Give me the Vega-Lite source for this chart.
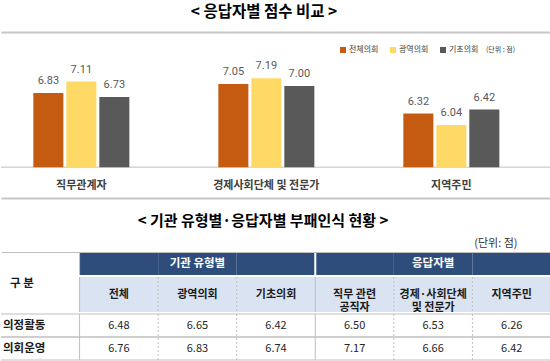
{
  "$schema": "https://vega.github.io/schema/vega-lite/v6.json",
  "padding": {"left": 0, "right": 0, "top": 4, "bottom": 0},
  "background": "white",
  "config": {
    "view": {"stroke": null},
    "font": "Noto Sans CJK KR",
    "axis": {"labelFont": "Noto Sans CJK KR", "titleFont": "Noto Sans CJK KR"},
    "legend": {"labelFont": "Noto Sans CJK KR", "titleFont": "Noto Sans CJK KR"},
    "title": {"font": "Noto Sans CJK KR"}
  },
  "datasets": {
    "bars": [
      {"cat": "직무관계자", "series": "전체의회", "value": 6.83},
      {"cat": "직무관계자", "series": "광역의회", "value": 7.11},
      {"cat": "직무관계자", "series": "기초의회", "value": 6.73},
      {"cat": "경제사회단체 및 전문가", "series": "전체의회", "value": 7.05},
      {"cat": "경제사회단체 및 전문가", "series": "광역의회", "value": 7.19},
      {"cat": "경제사회단체 및 전문가", "series": "기초의회", "value": 7.00},
      {"cat": "지역주민", "series": "전체의회", "value": 6.32},
      {"cat": "지역주민", "series": "광역의회", "value": 6.04},
      {"cat": "지역주민", "series": "기초의회", "value": 6.42}
    ],
    "columns": [
      {"col": "구분", "label": "구 분", "group": ""},
      {"col": "전체", "label": "전체", "group": "기관 유형별"},
      {"col": "광역의회", "label": "광역의회", "group": "기관 유형별"},
      {"col": "기초의회", "label": "기초의회", "group": "기관 유형별"},
      {"col": "직무 관련 공직자", "label": "직무 관련\n공직자", "group": "응답자별"},
      {"col": "경제·사회단체 및 전문가", "label": "경제·사회단체\n및 전문가", "group": "응답자별"},
      {"col": "지역주민", "label": "지역주민", "group": "응답자별"}
    ],
    "table": [
      {"row": "의정활동", "col": "전체", "value": 6.48},
      {"row": "의정활동", "col": "광역의회", "value": 6.65},
      {"row": "의정활동", "col": "기초의회", "value": 6.42},
      {"row": "의정활동", "col": "직무 관련 공직자", "value": 6.50},
      {"row": "의정활동", "col": "경제·사회단체 및 전문가", "value": 6.53},
      {"row": "의정활동", "col": "지역주민", "value": 6.26},
      {"row": "의회운영", "col": "전체", "value": 6.76},
      {"row": "의회운영", "col": "광역의회", "value": 6.83},
      {"row": "의회운영", "col": "기초의회", "value": 6.74},
      {"row": "의회운영", "col": "직무 관련 공직자", "value": 7.17},
      {"row": "의회운영", "col": "경제·사회단체 및 전문가", "value": 6.66},
      {"row": "의회운영", "col": "지역주민", "value": 6.42}
    ]
  },
  "spacing": 16,
  "vconcat": [
    {
      "width": 550,
      "height": 166,
      "title": {"text": "< 응답자별 점수 비교 >", "fontSize": 15.5, "fontWeight": "bold", "color": "#000000", "offset": 12, "dx": -12, "anchor": "middle"},
      "data": {"name": "bars"},
      "resolve": {"axis": {"x": "independent"}},
      "layer": [
        {
          "transform": [{"aggregate": [{"op": "count", "as": "n"}]}],
          "mark": {"type": "rule", "color": "#BFBFBF", "strokeWidth": 1},
          "encoding": {"y": {"datum": 5, "type": "quantitative", "scale": {"domain": [4.24, 8.33], "nice": false}, "axis": null}}
        },
        {
          "mark": {"type": "bar"},
          "encoding": {
            "x": {"field": "cat", "type": "nominal", "sort": ["직무관계자", "경제사회단체 및 전문가", "지역주민"],
              "scale": {"paddingInner": 0.481, "paddingOuter": 0.227, "align": 0.385},
              "axis": {"orient": "bottom", "title": null, "domainColor": "#C8C8C8", "domainWidth": 2, "ticks": false, "labelPadding": -13, "labelBaseline": "middle", "labelFontSize": 11, "labelFontWeight": "bold", "labelColor": "#404040", "labelAngle": 0}},
            "xOffset": {"field": "series", "type": "nominal", "sort": ["전체의회", "광역의회", "기초의회"], "scale": {"paddingInner": 0.09, "paddingOuter": 0}},
            "y": {"field": "value", "type": "quantitative", "scale": {"domain": [4.24, 8.33], "nice": false}, "axis": null},
            "y2": {"datum": 5},
            "color": {"field": "series", "type": "nominal", "sort": ["전체의회", "광역의회", "기초의회"],
              "scale": {"domain": ["전체의회", "광역의회", "기초의회"], "range": ["#C55A11", "#FFD966", "#595959"]},
              "legend": {"title": "(단위 : 점)", "orient": "none", "legendX": 338, "legendY": 14, "direction": "horizontal", "titleOrient": "right", "symbolType": "square", "symbolSize": 36, "symbolStrokeWidth": 0, "labelFontSize": 8, "labelColor": "#404040", "titleFontSize": 7, "titleFontWeight": "normal", "titleColor": "#404040", "columnPadding": 10, "labelOffset": 2, "titlePadding": 8}}
          }
        },
        {
          "mark": {"type": "text", "dy": -12, "fontSize": 11, "color": "#595959", "font": "Roboto"},
          "encoding": {
            "x": {"field": "cat", "type": "nominal", "sort": ["직무관계자", "경제사회단체 및 전문가", "지역주민"],
              "axis": {"orient": "top", "labels": false, "ticks": false, "title": null, "domainColor": "#C8C8C8", "domainWidth": 2}},
            "xOffset": {"field": "series", "type": "nominal", "sort": ["전체의회", "광역의회", "기초의회"]},
            "y": {"field": "value", "type": "quantitative"},
            "text": {"field": "value", "type": "quantitative", "format": ".2f"}
          }
        }
      ]
    },
    {
      "spacing": 0,
      "vconcat": [
        {
          "width": 550,
          "height": 23,
          "title": {"text": "< 기관 유형별·응답자별 부패인식 현황 >", "fontSize": 15, "fontWeight": "bold", "color": "#000000", "offset": 8, "dx": -13, "anchor": "middle"},
          "data": {"name": "columns"},
          "encoding": {
            "x": {"field": "col", "type": "nominal",
              "scale": {"domain": ["구분", "전체", "광역의회", "기초의회", "직무 관련 공직자", "경제·사회단체 및 전문가", "지역주민"], "paddingInner": 0, "paddingOuter": 0},
              "axis": {"orient": "top", "labels": false, "ticks": false, "title": "(단위: 점)", "titleX": 516, "titleAlign": "right", "titleFontSize": 11, "titleFontWeight": "normal", "titleColor": "#333333", "titlePadding": 4, "domainColor": "#BFBFBF", "domainWidth": 1}}
          },
          "layer": [
            {"transform": [{"filter": "datum.col !== '구분'"}], "mark": {"type": "rect", "color": "#2E4D7B"}},
            {"transform": [{"filter": "datum.col === '광역의회' || datum.col === '경제·사회단체 및 전문가'"}],
              "mark": {"type": "text", "color": "white", "fontSize": 11.5, "fontWeight": "bold"},
              "encoding": {"text": {"field": "group"}}},
            {"transform": [{"filter": "datum.col === '직무 관련 공직자'"}],
              "mark": {"type": "rule", "color": "white", "strokeWidth": 2},
              "encoding": {"x": {"field": "col", "type": "nominal", "bandPosition": 0}}},
            {"transform": [{"filter": "datum.col === '전체'"}],
              "mark": {"type": "rule", "color": "#BFBFBF", "strokeWidth": 1},
              "encoding": {"x": {"field": "col", "type": "nominal", "bandPosition": 0}}}
          ]
        },
        {
          "width": 550,
          "height": 35,
          "data": {"name": "columns"},
          "encoding": {
            "x": {"field": "col", "type": "nominal",
              "scale": {"domain": ["구분", "전체", "광역의회", "기초의회", "직무 관련 공직자", "경제·사회단체 및 전문가", "지역주민"], "paddingInner": 0, "paddingOuter": 0},
              "axis": null}
          },
          "layer": [
            {"transform": [{"filter": "datum.col !== '구분'"}], "mark": {"type": "rect", "color": "#DAE3F1"}},
            {"transform": [{"filter": "datum.col !== '구분'"}],
              "mark": {"type": "text", "color": "#1A1A1A", "fontSize": 11, "fontWeight": "bold", "lineBreak": "\n", "lineHeight": 13.5},
              "encoding": {"text": {"field": "label"}}},
            {"transform": [{"filter": "datum.col === '구분'"}],
              "mark": {"type": "text", "color": "#1A1A1A", "fontSize": 11.5, "fontWeight": "bold", "align": "left", "dx": 9, "dy": -11},
              "encoding": {"x": {"field": "col", "type": "nominal", "bandPosition": 0}, "text": {"field": "label"}}},
            {"transform": [{"filter": "datum.col === '전체' || datum.col === '직무 관련 공직자'"}],
              "mark": {"type": "rule", "color": "#BFBFBF", "strokeWidth": 1},
              "encoding": {"x": {"field": "col", "type": "nominal", "bandPosition": 0}}},
            {"transform": [{"filter": "datum.col === '광역의회' || datum.col === '기초의회' || datum.col === '경제·사회단체 및 전문가' || datum.col === '지역주민'"}],
              "mark": {"type": "rule", "color": "#BFBFBF", "strokeWidth": 1, "strokeDash": [2, 2]},
              "encoding": {"x": {"field": "col", "type": "nominal", "bandPosition": 0}}}
          ]
        },
        {
          "width": 550,
          "height": 46,
          "encoding": {
            "x": {"field": "col", "type": "nominal",
              "scale": {"domain": ["구분", "전체", "광역의회", "기초의회", "직무 관련 공직자", "경제·사회단체 및 전문가", "지역주민"], "paddingInner": 0, "paddingOuter": 0},
              "axis": null}
          },
          "layer": [
            {"data": {"name": "table"},
              "mark": {"type": "text", "fontSize": 11, "color": "#262626"},
              "encoding": {
                "y": {"field": "row", "type": "nominal", "sort": ["의정활동", "의회운영"], "scale": {"paddingInner": 0, "paddingOuter": 0}, "axis": null},
                "text": {"field": "value", "type": "quantitative", "format": ".2f"}}},
            {"data": {"name": "table"},
              "transform": [{"filter": "datum.col === '전체'"}],
              "mark": {"type": "text", "fontSize": 11.5, "fontWeight": "bold", "color": "#1A1A1A", "align": "left", "dx": 2},
              "encoding": {
                "x": {"datum": "구분", "type": "nominal", "bandPosition": 0},
                "y": {"field": "row", "type": "nominal", "sort": ["의정활동", "의회운영"]},
                "text": {"field": "row"}}},
            {"data": {"name": "table"},
              "transform": [{"filter": "datum.col === '전체'"}],
              "mark": {"type": "rule", "color": "#BFBFBF", "strokeWidth": 1},
              "encoding": {"x": null, "y": {"field": "row", "type": "nominal", "sort": ["의정활동", "의회운영"], "bandPosition": 0}}},
            {"data": {"name": "table"},
              "transform": [{"filter": "datum.col === '전체'"}],
              "mark": {"type": "rule", "color": "#BFBFBF", "strokeWidth": 1},
              "encoding": {"x": null, "y": {"field": "row", "type": "nominal", "sort": ["의정활동", "의회운영"], "bandPosition": 1}}},
            {"data": {"name": "columns"},
              "transform": [{"filter": "datum.col === '전체' || datum.col === '직무 관련 공직자'"}],
              "mark": {"type": "rule", "color": "#BFBFBF", "strokeWidth": 1},
              "encoding": {"x": {"field": "col", "type": "nominal", "bandPosition": 0}}},
            {"data": {"name": "columns"},
              "transform": [{"filter": "datum.col === '광역의회' || datum.col === '기초의회' || datum.col === '경제·사회단체 및 전문가' || datum.col === '지역주민'"}],
              "mark": {"type": "rule", "color": "#BFBFBF", "strokeWidth": 1, "strokeDash": [2, 2]},
              "encoding": {"x": {"field": "col", "type": "nominal", "bandPosition": 0}}}
          ]
        }
      ]
    }
  ]
}
